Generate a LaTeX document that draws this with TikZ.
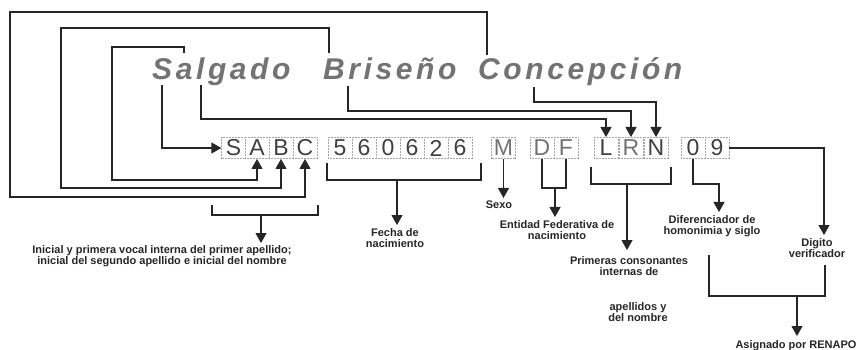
\documentclass[tikz,border=0pt]{standalone}
\usepackage{fontspec}
\setmainfont{Liberation Sans}
\usetikzlibrary{arrows.meta}
\begin{document}
\begin{tikzpicture}[x=1pt,y=-1pt,
  ln/.style={line width=1.1pt, draw=black!85},
  arr/.style={ln,-{Triangle[width=11pt,length=10pt]}},
  arrs/.style={ln,-{Triangle[width=11pt,length=10pt]}},
  cell/.style={draw=gray!70, densely dotted, line width=0.5pt, minimum width=23.8pt, minimum height=21.5pt, inner sep=0pt, font=\fontsize{23}{23}\selectfont, text=black!75},
  cellg/.style={cell, text=black!55},
  word/.style={anchor=base west, inner sep=0pt, text=black!55, font=\fontsize{30}{30}\selectfont\bfseries\itshape\addfontfeature{LetterSpace=12}},
  lab/.style={align=center, anchor=north, inner sep=0pt, font=\fontsize{11}{11.5}\selectfont\bfseries, text=black!85}
]
\useasboundingbox (0,0) rectangle (860,350);
\fill[white] (0,0) rectangle (860,350);

% name words
\node[word] (w1) at (152,80) {Salgado};
\node[word] (w2) at (323,80) {Briseño};
\node[word] (w3) at (478,80) {Concepción};

% cells
\node[cell] (S) at (233.5,148) {S};
\node[cell] (A) at (257,148) {A};
\node[cell] (B) at (281,148) {B};
\node[cell] (C) at (305,148) {C};
\node[cell] (d1) at (340,148) {5};
\node[cell] (d2) at (364,148) {6};
\node[cell] (d3) at (388,148) {0};
\node[cell] (d4) at (412,148) {6};
\node[cell] (d5) at (436,148) {2};
\node[cell] (d6) at (460,148) {6};
\node[cellg] (M) at (503.5,148) {M};
\node[cellg] (D) at (542,148) {D};
\node[cellg] (F) at (566,148) {F};
\node[cell] (L) at (606,148) {L};
\node[cellg] (R) at (631,148) {R};
\node[cell] (N) at (656,148) {N};
\node[cell] (z0) at (693,148) {0};
\node[cell] (z9) at (717,148) {9};

% start points on the name
\coordinate (s1) at (162,85);
\coordinate (a1) at (184,53);
\coordinate (b1) at (329,53);
\coordinate (c1) at (487,55);
\coordinate (l1) at (201,85);
\coordinate (r1) at (348,86);
\coordinate (n1) at (534,87);

\draw[arr] (s1) |- (S.west);
\draw[arrs] (a1) -- (184,47) -- (112,47) -- (112,180) -| (A.south);
\draw[arrs] (b1) -- (329,28) -- (61,28) -- (61,188) -| (B.south);
\draw[arrs] (c1) -- (487,12) -- (10,12) -- (10,197) -| (C.south);
\draw[arr] (l1) -- (201,119) -| (L.north);
\draw[arr] (r1) -- (348,111) -| (R.north);
\draw[arr] (n1) -- (534,102) -| (N.north);

% labels
\node[lab] (t1) at (162,245) {Inicial y primera vocal interna del primer apellido;\\inicial del segundo apellido e inicial del nombre};
\node[lab] (t2) at (395,228) {Fecha de\\nacimiento};
\node[lab] (t3) at (499,201) {Sexo};
\node[lab] (t4) at (557,220) {Entidad Federativa de\\nacimiento};
\node[lab] (t5) at (629,256) {Primeras consonantes\\internas de};
\node[lab] (t5b) at (638,302) {apellidos y\\del nombre};
\node[lab] (t6) at (712,215) {Diferenciador de\\homonimia y siglo};
\node[lab] (t7) at (817,238) {Digito\\verificador};
\node[lab] (t8) at (796,340) {Asignado por RENAPO};

% brackets
\coordinate (k1) at (261,215);
\draw[ln] (212,205) -- (212,215) -- (318,215) -- (318,205);
\draw[arr] (k1) -- (261,243);

\coordinate (k2) at (397,180);
\draw[ln] (327,163) -- (327,180) -- (481,180) -- (481,163);
\draw[arr] (k2) -- (397,225);

\draw[arr] (M.south) -- (503.5,198);

\coordinate (k4) at (555,188);
\draw[ln] (D.south) -- (542,188) -- (566,188) -- (F.south);
\draw[arr] (k4) -- (555,217);

\coordinate (k5) at (627,184);
\draw[ln] (591,167) -- (591,184) -- (671,184) -- (671,167);
\draw[arr] (k5) -- (627,250);

\draw[arr] (z0.south) -- (693,184) -- (719,184) -- (719,212);
\draw[arr] (z9.east) -- (824,148) -- (824,235);

\coordinate (k8) at (797,296);
\draw[ln] (709,255) -- (709,296) -- (825,296) -- (825,265);
\draw[arr] (k8) -- (797,336);
\end{tikzpicture}
\end{document}
